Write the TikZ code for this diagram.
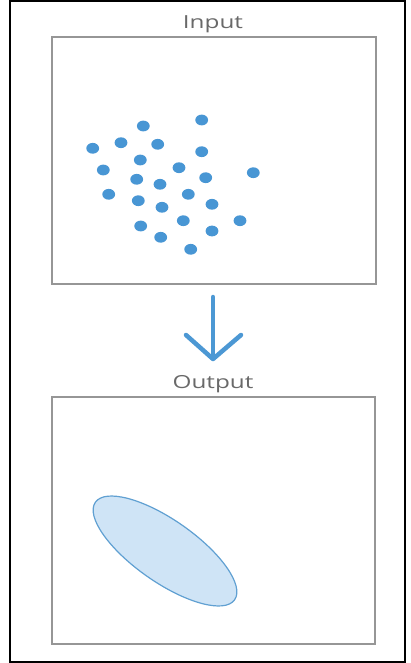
\documentclass[tikz,border=0pt]{standalone}
\usepackage{fontspec}
\setmainfont{Open Sans}
\definecolor{dotblue}{RGB}{72,150,212}
\definecolor{arrowblue}{RGB}{76,152,212}
\definecolor{boxgray}{RGB}{150,150,150}
\definecolor{labelgray}{RGB}{105,105,105}
\definecolor{ellfill}{RGB}{207,228,246}
\definecolor{elldraw}{RGB}{96,160,210}
\tikzset{
  panel/.style={draw=boxgray, line width=1.6pt},
  frame/.style={draw=black, line width=2pt},
  lbl/.style={font=\fontsize{18}{21}\selectfont, text=labelgray, anchor=base, inner sep=0pt},
  dot/.style={fill=dotblue},
  flow/.style={draw=arrowblue, line width=4.5pt, line cap=round, line join=round}
}
\newcommand{\wide}[1]{\scalebox{1.35}[1]{#1}}
\begin{document}
\begin{tikzpicture}[x=1pt,y=-1pt]
\useasboundingbox (0,0) rectangle (410,663);
\fill[white] (0,0) rectangle (410,663);
% outer frame
\draw[frame] (10,1.5) rectangle (405,661.5);
% labels
\node[lbl] (inlbl) at (213,28.5) {\wide{Input}};
\node[lbl] (outlbl) at (213,388.5) {\wide{Output}};
% panels
\draw[panel] (52,37) rectangle (376,284);
\draw[panel] (52,397) rectangle (375,644);
% dots
\foreach \x/\y in {143.3/126, 201.7/120, 92.7/148.3, 121/142.7, 157.7/144.3, 201.7/151.7,
  140.3/160, 103.3/170, 179/167.7, 253.3/172.7, 136.7/179.3, 160/184.3, 205.7/177.7,
  108.7/194.3, 188.3/194.3, 138.3/200.7, 162/207.3, 212/204.3, 183.3/220.7, 240/220.7,
  140.7/226, 212/231, 160.7/237.3, 190.7/249.3}
  \fill[dot] (\x,\y) ellipse [x radius=6.4pt, y radius=5.4pt];
% arrow
\coordinate (atop) at (213,297);
\coordinate (atip) at (213,359);
\coordinate (wl) at (186,335);
\coordinate (wr) at (241,335);
\draw[flow] (atop) -- (atip);
\draw[flow] (wl) -- (atip) -- (wr);
% ellipse
\draw[fill=ellfill, draw=elldraw, line width=1.2pt, rotate around={-35:(165,551)}]
  (165,551) ellipse [x radius=85pt, y radius=31pt];
\end{tikzpicture}
\end{document}
